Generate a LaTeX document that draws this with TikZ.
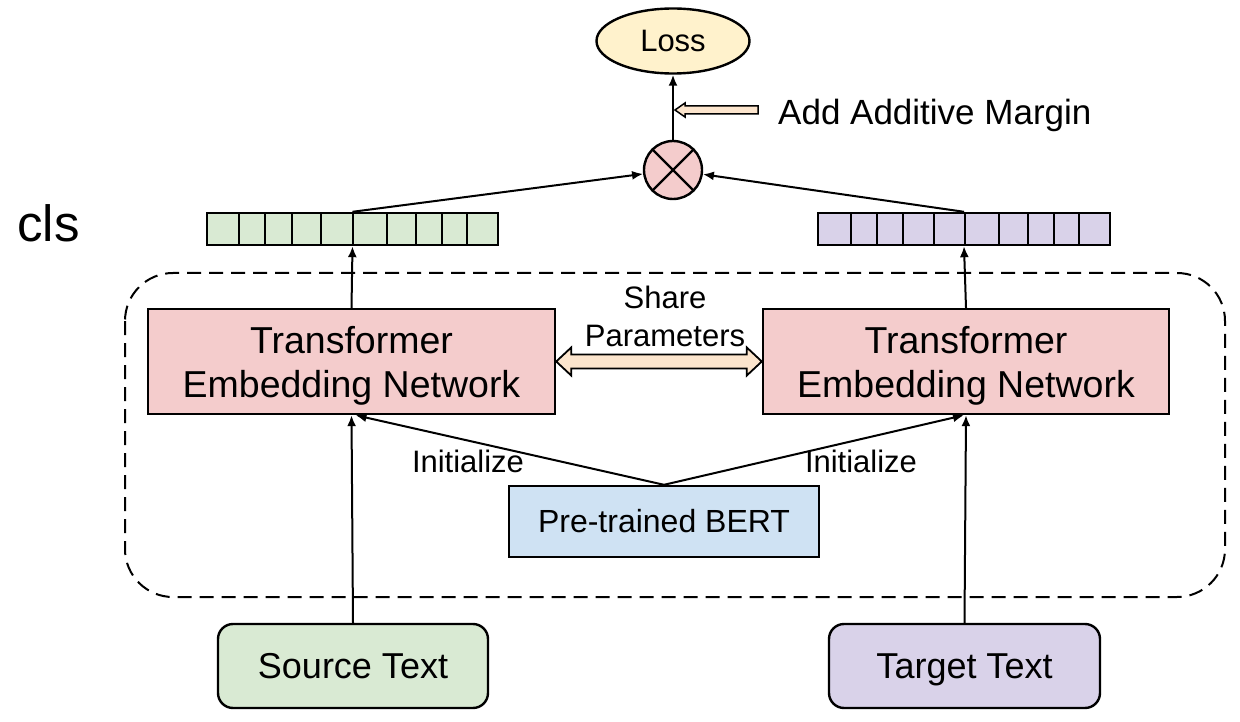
\documentclass[tikz,border=0pt]{standalone}
\usepackage{fontspec}
\setmainfont{Liberation Sans}
\usetikzlibrary{arrows.meta,calc,shapes.geometric}
\definecolor{lossfill}{HTML}{FFF2CC}
\definecolor{pinkfill}{HTML}{F4CCCC}
\definecolor{bertfill}{HTML}{CFE2F3}
\definecolor{greenfill}{HTML}{D9EAD3}
\definecolor{purplefill}{HTML}{D9D2E9}
\definecolor{arrowfill}{HTML}{FCE5CD}
\begin{document}
\begin{tikzpicture}[x=1pt,y=-1pt,
  box/.style={draw=black, line width=2.4pt, inner sep=0pt, align=center},
  conn/.style={line width=2pt, -{Latex[length=11pt,width=9pt]}},
  fat/.style={draw=black, line width=1.8pt, fill=arrowfill, line join=miter},
  vec/.style={box, minimum height=32pt},
  lbl/.style={inner sep=0pt, anchor=base},
]
\useasboundingbox (0,0) rectangle (1240,722);

% dashed container
\draw[line width=2pt, dash pattern=on 14pt off 8pt, rounded corners=48pt]
  (125,273) rectangle (1225,597);

% nodes
\node[box, ellipse, fill=lossfill, minimum width=153pt, minimum height=65pt,
      font=\fontsize{31pt}{36pt}\selectfont] (loss) at (673,41) {Loss};
\node[box, circle, fill=pinkfill, minimum size=58pt] (circ) at (673,170) {};
\draw[line width=2.4pt] (circ.north east) -- (circ.south west);
\draw[line width=2.4pt] (circ.north west) -- (circ.south east);

\node[vec, fill=greenfill, minimum width=291pt] (vl) at (352.5,229) {};
\node[vec, fill=purplefill, minimum width=292pt] (vr) at (964,229) {};
\foreach \x in {239,265,292,321,353,387,416,442,467}
  \draw[line width=2.4pt] (\x,213) -- (\x,245);
\foreach \x in {851,877,903,934,965,999,1028,1054,1079}
  \draw[line width=2.4pt] (\x,213) -- (\x,245);

\node[box, fill=pinkfill, minimum width=407pt, minimum height=105pt] (tl) at (351.5,361.5) {};
\node[box, fill=pinkfill, minimum width=406pt, minimum height=105pt] (tr) at (966,361.5) {};
\node[lbl, font=\fontsize{37.5pt}{44pt}\selectfont] (tl1) at (351.5,353) {Transformer};
\node[lbl, font=\fontsize{37.5pt}{44pt}\selectfont] (tl2) at (351.5,397) {Embedding Network};
\node[lbl, font=\fontsize{37.5pt}{44pt}\selectfont] (tr1) at (966,353) {Transformer};
\node[lbl, font=\fontsize{37.5pt}{44pt}\selectfont] (tr2) at (966,397) {Embedding Network};

\node[box, fill=bertfill, minimum width=310pt, minimum height=71pt,
      font=\fontsize{32pt}{38pt}\selectfont] (bert) at (664,521.5) {Pre-trained BERT};

\node[box, rounded corners=15pt, fill=greenfill, minimum width=270pt, minimum height=84pt,
      text depth=0pt, font=\fontsize{36pt}{42pt}\selectfont] (src) at (353,666) {Source Text};
\node[box, rounded corners=15pt, fill=purplefill, minimum width=271pt, minimum height=84pt,
      text depth=0pt, font=\fontsize{36pt}{42pt}\selectfont] (tgt) at (964.5,666) {Target Text};

% labels
\node[lbl, anchor=base west, font=\fontsize{51pt}{60pt}\selectfont] (cls) at (17,242) {cls};
\node[lbl, anchor=base west, font=\fontsize{35pt}{42pt}\selectfont] (aam) at (778,125) {Add Additive Margin};
\node[lbl, font=\fontsize{31pt}{38pt}\selectfont] (share) at (665,308) {Share};
\node[lbl, font=\fontsize{31pt}{38pt}\selectfont] (params) at (665,346) {Parameters};
\node[lbl, font=\fontsize{31pt}{38pt}\selectfont] (initl) at (468,472) {Initialize};
\node[lbl, font=\fontsize{31pt}{38pt}\selectfont] (initr) at (861,472) {Initialize};

% connectors
\draw[conn] (src.north) -- (tl.south);
\draw[conn] (tgt.north) -- (tr.south);
\draw[conn] (tl.north) -- (vl.south);
\draw[conn] (tr.north) -- (vr.south);
\draw[conn] (vl.north) -- (circ);
\draw[conn] (vr.north) -- (circ);
\draw[conn] (circ.north) -- (loss.south);
\draw[conn] (bert.north) -- ($(tl.south)+(4,0)$);
\draw[conn] (bert.north) -- ($(tr.south)+(-2,0)$);

% share parameters double fat arrow
\coordinate (sL) at (tl.east);
\coordinate (sR) at (tr.west);
\draw[fat] (sL) -- ($(sL)+(15,-14)$) -- ($(sL)+(15,-7)$) -- ($(sR)+(-15,-7)$)
  -- ($(sR)+(-15,-14)$) -- (sR) -- ($(sR)+(-15,14)$) -- ($(sR)+(-15,7)$)
  -- ($(sL)+(15,7)$) -- ($(sL)+(15,14)$) -- cycle;

% add additive margin fat arrow
\coordinate (amtip) at (675,110);
\coordinate (amtail) at (758,110);
\draw[fat, line width=1.5pt] (amtip) -- ($(amtip)+(10,-7)$) -- ($(amtip)+(10,-4)$)
  -- ($(amtail)+(0,-4)$) -- ($(amtail)+(0,4)$) -- ($(amtip)+(10,4)$)
  -- ($(amtip)+(10,7)$) -- cycle;
\end{tikzpicture}
\end{document}
